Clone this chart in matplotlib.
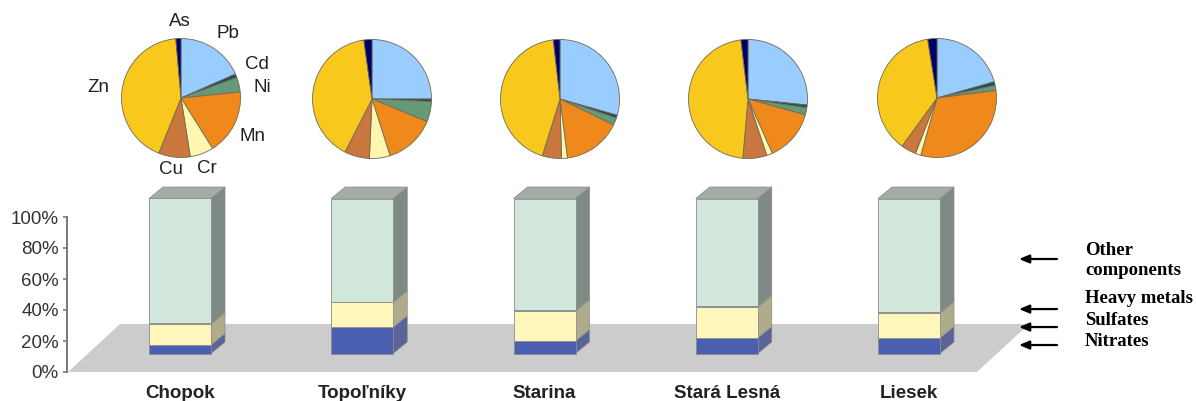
import matplotlib
matplotlib.use("Agg")
import matplotlib.pyplot as plt
from matplotlib.patches import Polygon

# ---------------- data ----------------
sites = ["Chopok", "Topoľníky", "Starina", "Stará Lesná", "Liesek"]

nitrates = [5.5, 17.0, 8.0, 10.0, 10.0]
sulfates = [13.5, 16.0, 19.4, 20.0, 16.0]
heavy_metals = [0.5, 0.5, 0.5, 0.5, 0.5]
other = [100 - a - b - c for a, b, c in zip(nitrates, sulfates, heavy_metals)]

metals = ["Pb", "Cd", "Ni", "Mn", "Cr", "Cu", "Zn", "As"]
pb = [18.4, 25.0, 29.4, 26.6, 20.6]
cd = [1.0, 0.7, 0.8, 0.8, 1.0]
ni = [4.0, 5.5, 2.0, 1.9, 1.4]
mn = [17.7, 13.9, 15.8, 14.0, 31.4]
cr = [6.4, 5.6, 1.6, 1.6, 1.5]
cu = [8.6, 6.8, 5.2, 6.5, 4.1]
zn = [42.5, 40.3, 43.4, 46.7, 37.5]
as_ = [1.4, 2.2, 1.8, 1.9, 2.5]

yticks = [0, 20, 40, 60, 80, 100]
ytick_labels = ["0%", "20%", "40%", "60%", "80%", "100%"]
legend_labels = ["Other\ncomponents", "Heavy metals", "Sulfates", "Nitrates"]

# ---------------- style ----------------
plt.rcParams["font.family"] = ["Liberation Sans", "DejaVu Sans"]
W, H = 1196, 401
fig = plt.figure(figsize=(W / 100, H / 100), dpi=100)

metal_colors = ["#99ccff", "#1f4f5f", "#669977", "#f0891c",
                "#fff6b0", "#c9773d", "#f8c81c", "#000066"]

seg_front = ["#4a5fb0", "#fff6bb", "#c8c8a0", "#d2e7dc"]
seg_side = ["#5a6499", "#b0ab8a", "#9a9a80", "#7f8a85"]
top_color = "#a3aca7"
edge = "#8c8c8c"

# ---------------- main axes ----------------
px_per_unit = 182.25          # horizontal pixels per category
x0_px = 180.0                 # pixel of first category
left_px, right_px = 67, 1196
ax = fig.add_axes([left_px / W, (H - 372) / H, (right_px - left_px) / W, 155 / H])
ax.set_xlim((left_px - x0_px) / px_per_unit, (right_px - x0_px) / px_per_unit)
ax.set_ylim(0, 100)
ax.patch.set_alpha(0)
for s in ["top", "right", "bottom"]:
    ax.spines[s].set_visible(False)
ax.spines["left"].set_color("#7a7a7a")
ax.spines["left"].set_linewidth(1.4)
ax.set_yticks(yticks)
ax.set_yticklabels(ytick_labels, fontsize=13.5, color="#333333")
ax.tick_params(axis="y", length=3, width=1.2, color="#7a7a7a", pad=3)
ax.set_xticks(range(len(sites)))
ax.set_xticklabels(sites, fontsize=13.5, fontweight="bold", color="#222222")
ax.tick_params(axis="x", length=0, pad=9)

ypx = 1.55  # pixels per percent

# floor
fdx, fdy = 52 / px_per_unit, 48 / ypx
fx0 = (left_px + 1 - x0_px) / px_per_unit
fx1 = (977 - x0_px) / px_per_unit
floor = Polygon([(fx0, 0), (fx1, 0), (fx1 + fdx, fdy), (fx0 + fdx, fdy)],
                closed=True, facecolor="#cccccc", edgecolor="none", zorder=1, clip_on=False)
ax.add_patch(floor)

# bars
base = 18.5 / ypx
bw = 62 / px_per_unit
ddx, ddy = 14 / px_per_unit, 11.5 / ypx
series = [nitrates, sulfates, heavy_metals, other]
xs = list(range(len(sites)))
bottoms = [base] * len(sites)
for k, vals in enumerate(series):
    ax.bar(xs, vals, bottom=bottoms, width=bw, color=seg_front[k], edgecolor=edge,
           linewidth=0.6, zorder=3, clip_on=False)
    for i, v in enumerate(vals):
        xr = xs[i] + bw / 2
        y0, y1 = bottoms[i], bottoms[i] + v
        side = Polygon([(xr, y0), (xr + ddx, y0 + ddy), (xr + ddx, y1 + ddy), (xr, y1)],
                       closed=True, facecolor=seg_side[k], edgecolor=edge, linewidth=0.5,
                       zorder=2.5, clip_on=False)
        ax.add_patch(side)
    bottoms = [b + v for b, v in zip(bottoms, vals)]
for i in range(len(sites)):
    xl, xr = xs[i] - bw / 2, xs[i] + bw / 2
    t = bottoms[i]
    top = Polygon([(xl, t), (xl + ddx, t + ddy), (xr + ddx, t + ddy), (xr, t)],
                  closed=True, facecolor=top_color, edgecolor=edge, linewidth=0.5,
                  zorder=2.5, clip_on=False)
    ax.add_patch(top)

# legend arrows on the right
arrow_y = [72.9, 40.6, 29.0, 17.4]
text_y = [72.0, 47.7, 33.5, 19.4]
ax_tail = (1057 - x0_px) / px_per_unit
ax_head = (1019 - x0_px) / px_per_unit
tx = (1085 - x0_px) / px_per_unit
for lab, ay, ty in zip(legend_labels, arrow_y, text_y):
    ax.annotate("", xy=(ax_head, ay), xytext=(ax_tail, ay),
                arrowprops=dict(arrowstyle="-|>,head_length=0.6,head_width=0.25",
                                color="black", lw=1.6, shrinkA=0, shrinkB=0),
                annotation_clip=False)
    ax.text(tx, ty, lab, fontsize=13.5, fontweight="bold", ha="left", va="center",
            family=["Liberation Serif", "DejaVu Serif"], linespacing=1.2, clip_on=False)

# ---------------- pies ----------------
pie_centers = [(181, 98), (372, 99), (560, 99), (748, 99), (937, 98)]
r_px = 59.5
ext = 1.7
per_site = list(zip(pb, cd, ni, mn, cr, cu, zn, as_))
label_pos = {"As": (-0.02, 1.28), "Pb": (0.79, 1.09), "Cd": (1.28, 0.57),
             "Ni": (1.36, 0.18), "Zn": (-1.39, 0.18), "Mn": (1.21, -0.64),
             "Cr": (0.44, -1.18), "Cu": (-0.17, -1.21)}
for i, (cx, cy) in enumerate(pie_centers):
    size = 2 * ext * r_px
    pax = fig.add_axes([(cx - size / 2) / W, (H - cy - size / 2) / H, size / W, size / H])
    pax.pie(per_site[i], colors=metal_colors, startangle=90, counterclock=False,
            radius=1.0, wedgeprops=dict(edgecolor="#6e6a55", linewidth=0.6))
    pax.set_xlim(-ext, ext)
    pax.set_ylim(-ext, ext)
    pax.set_aspect("equal")
    pax.axis("off")
    if i == 0:
        for m in metals:
            lx, ly = label_pos[m]
            pax.text(lx, ly, m, fontsize=13.5, color="#222222", ha="center", va="center",
                     clip_on=False)

fig.savefig("out.png", dpi=100)
